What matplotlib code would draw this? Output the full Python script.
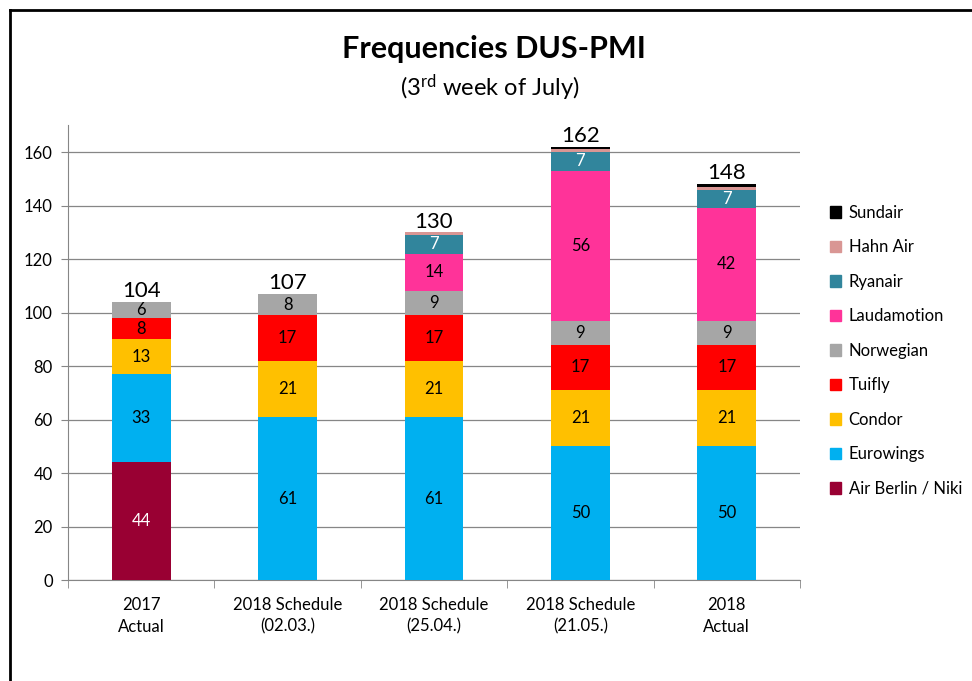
import matplotlib
matplotlib.use("Agg")
import matplotlib.pyplot as plt
import numpy as np
from matplotlib.patches import Rectangle
from matplotlib.lines import Line2D

plt.rcParams['font.family'] = ['Lato', 'DejaVu Sans']
plt.rcParams['mathtext.fontset'] = 'custom'
plt.rcParams['mathtext.rm'] = 'Lato'
plt.rcParams['mathtext.it'] = 'Lato:italic'
plt.rcParams['mathtext.bf'] = 'Lato:bold'

categories = ["2017\nActual", "2018 Schedule\n(02.03.)", "2018 Schedule\n(25.04.)",
              "2018 Schedule\n(21.05.)", "2018\nActual"]
airlines = ["Air Berlin / Niki", "Eurowings", "Condor", "Tuifly", "Norwegian",
            "Laudamotion", "Ryanair", "Hahn Air", "Sundair"]
colors = ["#990033", "#00B0F0", "#FFC000", "#FF0000", "#A6A6A6",
          "#FF3399", "#31859C", "#D99694", "#000000"]
label_colors = ["white", "black", "black", "black", "black", "black", "white", None, None]

air_berlin = [44, 0, 0, 0, 0]
eurowings = [33, 61, 61, 50, 50]
condor = [13, 21, 21, 21, 21]
tuifly = [8, 17, 17, 17, 17]
norwegian = [6, 8, 9, 9, 9]
laudamotion = [0, 0, 14, 56, 42]
ryanair = [0, 0, 7, 7, 7]
hahn_air = [0, 0, 1, 1, 1]
sundair = [0, 0, 0, 1, 1]
totals = [104, 107, 130, 162, 148]

series = [air_berlin, eurowings, condor, tuifly, norwegian, laudamotion, ryanair, hahn_air, sundair]

fig = plt.figure(figsize=(9.72, 6.81), dpi=100)
ax = fig.add_axes([0.070, 0.148, 0.753, 0.668])

x = np.arange(len(categories))
bottom = np.zeros(len(categories))
handles = []
for name, vals, col, lc in zip(airlines, series, colors, label_colors):
    vals = np.array(vals, dtype=float)
    ax.bar(x, vals, 0.40, bottom=bottom, color=col, zorder=3)
    if lc is not None:
        for xi, v, b in zip(x, vals, bottom):
            if v > 0:
                ax.text(xi, b + v / 2, f"{int(v)}", ha='center', va='center',
                        fontsize=12, color=lc, zorder=4)
    bottom += vals
    handles.append(Rectangle((0, 0), 1, 1, color=col))

for xi, t in zip(x, totals):
    ax.text(xi, t + 0.3, str(t), ha='center', va='bottom', fontsize=16, color='black', zorder=4)

ax.set_xlim(-0.5, 4.5)
ax.set_ylim(0, 170)
ax.set_yticks(np.arange(0, 161, 20))
ax.yaxis.grid(True, color='#868686', linewidth=0.9, zorder=0)
ax.set_axisbelow(True)
for s in ['top', 'right']:
    ax.spines[s].set_visible(False)
ax.spines['left'].set_color('#868686')
ax.spines['bottom'].set_color('#868686')
ax.tick_params(axis='y', labelsize=12, length=5, color='#868686', pad=6)
ax.set_xticks(x)
ax.set_xticklabels(categories, fontsize=12, linespacing=1.45)
ax.tick_params(axis='x', length=0, pad=12)
ax.set_xticks(np.arange(-0.5, 4.6, 1), minor=True)
ax.tick_params(axis='x', which='minor', length=6, color='#868686')

# legend (reverse order)
leg = ax.legend(handles[::-1], airlines[::-1], loc='upper left',
                bbox_to_anchor=(1.021, 0.858), frameon=False, fontsize=12,
                handlelength=0.65, handleheight=0.65, labelspacing=1.11, handletextpad=0.45)

fig.text(0.508, 0.928, "Frequencies DUS-PMI", ha='center', va='center', fontsize=22, fontweight='bold')
fig.text(0.504, 0.871, r"(3$^{\mathrm{rd}}$ week of July)", ha='center', va='center', fontsize=17)

# outer frame (left and top edges)
fig.add_artist(Line2D([10/972, 10/972], [1 - 10/681, 0], transform=fig.transFigure, color='black', linewidth=2))
fig.add_artist(Line2D([10/972, 1.0], [1 - 10/681, 1 - 10/681], transform=fig.transFigure, color='black', linewidth=2))

fig.savefig("out.png", dpi=100)
